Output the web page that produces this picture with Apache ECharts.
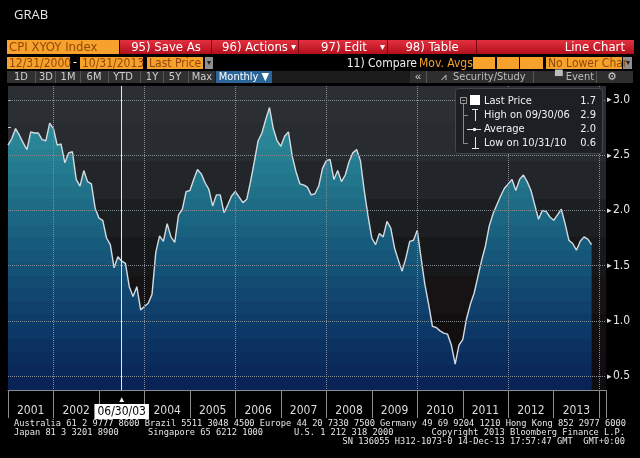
<!DOCTYPE html>
<html>
<head>
<meta charset="utf-8">
<script src="https://cdn.jsdelivr.net/npm/echarts@6/dist/echarts.min.js"></script>
<style>
  html, body { margin: 0; padding: 0; background: #000; }
  #main { width: 640px; height: 458px; }
</style>
</head>
<body>
<div id="main"></div>
<script>
  // CPI XYOY Index, monthly, 12/31/2000 - 10/31/2013
  var cpiYoY = [
    2.59, 2.65, 2.74, 2.68, 2.61, 2.55, 2.71, 2.70, 2.70, 2.64, 2.63, 2.79,
    2.74, 2.59, 2.60, 2.43, 2.52, 2.53, 2.28, 2.22, 2.36, 2.26, 2.24, 2.02,
    1.93, 1.91, 1.75, 1.69, 1.48, 1.58, 1.54, 1.52, 1.31, 1.22, 1.31, 1.10,
    1.13, 1.16, 1.24, 1.62, 1.77, 1.72, 1.88, 1.76, 1.71, 1.96, 2.01, 2.17,
    2.18, 2.28, 2.37, 2.33, 2.25, 2.19, 2.04, 2.14, 2.14, 1.98, 2.05, 2.13,
    2.17, 2.12, 2.07, 2.10, 2.26, 2.44, 2.63, 2.70, 2.82, 2.93, 2.74, 2.63,
    2.58, 2.67, 2.71, 2.49, 2.35, 2.24, 2.23, 2.21, 2.14, 2.15, 2.22, 2.38,
    2.45, 2.46, 2.28, 2.36, 2.26, 2.32, 2.44, 2.52, 2.55, 2.45, 2.18, 1.95,
    1.75, 1.69, 1.79, 1.76, 1.90, 1.84, 1.66, 1.55, 1.45, 1.57, 1.72, 1.73,
    1.82, 1.57, 1.33, 1.15, 0.95, 0.94, 0.91, 0.89, 0.88, 0.78, 0.61, 0.78,
    0.83, 1.02, 1.15, 1.25, 1.40, 1.55, 1.68, 1.86, 1.97, 2.05, 2.13, 2.20,
    2.24, 2.28, 2.18, 2.28, 2.32, 2.26, 2.18, 2.05, 1.92, 2.00, 1.99, 1.94,
    1.91, 1.96, 2.01, 1.88, 1.73, 1.70, 1.64, 1.72, 1.76, 1.74, 1.69
  ];
  var yearLabels = ['2001', '2002', '2003', '2004', '2005', '2006', '2007',
                    '2008', '2009', '2010', '2011', '2012', '2013'];
  var yTickLabels = ['0.5', '1.0', '1.5', '2.0', '2.5', '3.0'];
  var legendRows = [
    ['Last Price', '1.7'],
    ['High on 09/30/06', '2.9'],
    ['Average', '2.0'],
    ['Low on 10/31/10', '0.6']
  ];
  var cursorIndex = 30;          // 06/30/03
  var cursorLabel = '06/30/03';

  var FONT = "'Liberation Sans Narrow', 'DejaVu Sans Condensed', 'Liberation Sans', sans-serif";
  var UI = "'Liberation Sans', 'Noto Sans', sans-serif";
  var MONO = "'DejaVu Sans Mono', 'Liberation Mono', monospace";

  var myChart = echarts.init(document.getElementById('main'));

  // banded vertical gradient in pixel space
  function hex(c) { return [1, 3, 5].map(function (k) { return parseInt(c.substr(k, 2), 16); }); }
  function bands(y0, y1, anchors, n) {
    var stops = [];
    for (var k = 0; k < n; k++) {
      var t = (k + 0.5) / n * (anchors.length - 1);
      var a = Math.floor(t), b = Math.min(a + 1, anchors.length - 1), f = t - a;
      var ca = hex(anchors[a]), cb = hex(anchors[b]);
      var c = 'rgb(' + ca.map(function (v, j) { return Math.round(v + (cb[j] - v) * f); }).join(',') + ')';
      stops.push({ offset: k / n, color: c }, { offset: (k + 1) / n, color: c });
    }
    return new echarts.graphic.LinearGradient(0, y0, 0, y1, stops, true);
  }

  var PLOT_TOP = 85, PLOT_BOTTOM = 390, PLOT_LEFT = 8, PLOT_RIGHT = 606;
  var areaFill = bands(PLOT_TOP, PLOT_BOTTOM,
    ['#2e93a0', '#2a8796', '#21738a', '#185e7d', '#114971', '#0c3464', '#0a2155'], 24);
  var bgFill = bands(PLOT_TOP, PLOT_BOTTOM,
    ['#2c3035', '#2a2d32', '#23262b', '#1c1f23', '#171719', '#151213', '#110e10', '#0d0c10'], 8);

  var seriesData = cpiYoY.map(function (v, i) { return [i, v]; });
  var last = cpiYoY[cpiYoY.length - 1];

  var markData = [{
    xAxis: cursorIndex,
    lineStyle: { color: '#e6e6e6', width: 1, type: 'solid' },
    label: {
      show: true, position: 'start', distance: 6,
      formatter: '{t|▲}\n{d|' + cursorLabel + '}',
      rich: {
        t: { color: '#ffffff', fontSize: 8, lineHeight: 8, align: 'center' },
        d: { color: '#000', backgroundColor: '#ffffff', fontSize: 12, fontFamily: FONT,
             padding: [2, 3, 1, 3], align: 'center' }
      }
    }
  }, {
    yAxis: last,
    lineStyle: { opacity: 0 },
    label: {
      show: true, position: 'end', distance: 1,
      formatter: '{a|◀}{b|' + last.toFixed(1) + '}',
      rich: {
        a: { color: '#ffffff', fontSize: 9, padding: [0, -1, 0, 0] },
        b: { color: '#111', backgroundColor: '#ffffff', fontSize: 12, fontFamily: FONT,
             padding: [1, 3, 0, 3] }
      }
    }
  }];

  function box(x, y, w, h, fill, z) {
    return { type: 'rect', shape: { x: x, y: y, width: w, height: h }, style: { fill: fill }, z: z || 20 };
  }
  function txt(x, y, s, color, size, align, family) {
    return { type: 'text', x: x, y: y, z: 21,
      style: { text: s, fill: color, fontSize: size || 12, fontFamily: family || UI,
               align: align || 'left', verticalAlign: 'middle' } };
  }
  function line(x1, y1, x2, y2, color, z) {
    return { type: 'line', shape: { x1: x1, y1: y1, x2: x2, y2: y2 },
             style: { stroke: color, lineWidth: 1 }, z: z || 21 };
  }
  var ORANGE = '#f6a22c', ORTXT = '#93480a';
  var red = new echarts.graphic.LinearGradient(0, 0, 0, 1,
    [{ offset: 0, color: '#e3303f' }, { offset: 1, color: '#b3101d' }]);

  var ui = [
    box(0, 0, 640, 85, '#000', 19),
    txt(14, 15, 'GRAB', '#e8e8e8', 13, 'left', "'Open Sans', 'Noto Sans', sans-serif"),
    // row 1
    box(7, 40, 112, 14, ORANGE),
    txt(9, 47.5, 'CPI XYOY Index', ORTXT, 13, 'left', FONT),
    box(120, 40, 514, 14, red),
    line(211.5, 40, 211.5, 54, '#7c0a12'), line(298.5, 40, 298.5, 54, '#7c0a12'),
    line(387.5, 40, 387.5, 54, '#7c0a12'), line(476.5, 40, 476.5, 54, '#7c0a12'),
    txt(166, 47.5, '95) Save As', '#fff', 13, 'center', FONT),
    txt(255, 47.5, '96) Actions', '#fff', 13, 'center', FONT),
    txt(293, 47.5, '▾', '#fff', 10, 'center'),
    txt(344, 47.5, '97) Edit', '#fff', 13, 'center', FONT),
    txt(382, 47.5, '▾', '#fff', 10, 'center'),
    txt(432, 47.5, '98) Table', '#fff', 13, 'center', FONT),
    txt(625, 47.5, 'Line Chart', '#fff', 13, 'right', FONT),
    // row 2
    box(7, 57, 63, 12, ORANGE),
    txt(9, 63.5, '12/31/2000', ORTXT, 12, 'left', FONT),
    txt(75, 63, '-', '#fff', 12, 'center', FONT),
    box(80, 57, 63, 12, ORANGE),
    txt(82, 63.5, '10/31/2013', ORTXT, 12, 'left', FONT),
    box(147, 57, 56, 12, ORANGE),
    txt(149, 63.5, 'Last Price', ORTXT, 12, 'left', FONT),
    box(205, 57, 8, 12, '#8f8f8f'),
    txt(209, 63, '▾', '#222', 8, 'center'),
    txt(417, 63.5, '11) Compare', '#f0f0f0', 12, 'right', FONT),
    txt(419, 63.5, 'Mov. Avgs', ORANGE, 12, 'left', FONT),
    box(473, 57, 22, 12, ORANGE), box(497, 57, 22, 12, ORANGE), box(520, 57, 23, 12, ORANGE),
    box(546, 57, 76, 12, ORANGE),
    txt(548, 63.5, 'No Lower Char', ORTXT, 12, 'left', FONT),
    box(623, 57, 9, 12, '#8f8f8f'),
    txt(627.5, 63, '▾', '#222', 8, 'center'),
    // row 3
    box(7, 71, 626, 12, '#1c1c1c'),
    box(7, 71, 208, 12, '#303030'),
    box(216, 71, 56, 12, '#2c6597'),
    box(410, 71, 223, 12, '#2e2e2e'),
    line(35.5, 71, 35.5, 83, '#555'), line(55.5, 71, 55.5, 83, '#555'),
    line(80.5, 71, 80.5, 83, '#555'), line(108.5, 71, 108.5, 83, '#555'),
    line(140.5, 71, 140.5, 83, '#555'), line(163.5, 71, 163.5, 83, '#555'),
    line(188.5, 71, 188.5, 83, '#555'),
    line(426.5, 71, 426.5, 83, '#555'), line(533.5, 71, 533.5, 83, '#555'),
    line(596.5, 71, 596.5, 83, '#555'),
    txt(21, 77.5, '1D', '#cfcfcf', 11, 'center', FONT),
    txt(46, 77.5, '3D', '#cfcfcf', 11, 'center', FONT),
    txt(68, 77.5, '1M', '#cfcfcf', 11, 'center', FONT),
    txt(94, 77.5, '6M', '#cfcfcf', 11, 'center', FONT),
    txt(123, 77.5, 'YTD', '#cfcfcf', 11, 'center', FONT),
    txt(152, 77.5, '1Y', '#cfcfcf', 11, 'center', FONT),
    txt(175, 77.5, '5Y', '#cfcfcf', 11, 'center', FONT),
    txt(202, 77.5, 'Max', '#cfcfcf', 11, 'center', FONT),
    txt(244, 77.5, 'Monthly ▼', '#ffffff', 11, 'center', FONT),
    txt(418, 77, '«', '#cfcfcf', 11, 'center'),
    txt(444, 77, '⩘', '#cfcfcf', 10, 'center'),
    txt(453, 77.5, 'Security/Study', '#bdbdbd', 11, 'left', FONT),
    txt(555, 77.5, '▀ Event', '#bdbdbd', 11, 'left', FONT),
    txt(612, 77, '⚙', '#cfcfcf', 11, 'center', "'DejaVu Sans', sans-serif"),
    // legend box
    { type: 'rect', shape: { x: 455.5, y: 88.5, width: 147, height: 65, r: 3 },
      style: { fill: '#1c1f23', stroke: '#43474d', lineWidth: 1 }, z: 30 },
    { type: 'rect', shape: { x: 460.5, y: 97.5, width: 6, height: 6 },
      style: { fill: 'none', stroke: '#9a9a9a', lineWidth: 1 }, z: 31 },
    line(462, 100.5, 465, 100.5, '#9a9a9a', 31),
    line(463.5, 104, 463.5, 144, '#8a8a8a', 31),
    line(463.5, 115.5, 468, 115.5, '#8a8a8a', 31),
    line(463.5, 143.5, 468, 143.5, '#8a8a8a', 31),
    box(470, 95, 10, 10, '#ffffff', 31),
    line(472, 109.5, 478, 109.5, '#e8e8e8', 31), line(475.5, 109.5, 475.5, 121, '#e8e8e8', 31),
    line(467, 129.5, 481, 129.5, '#e8e8e8', 31),
    { type: 'circle', shape: { cx: 474.5, cy: 129.5, r: 1.8 }, style: { fill: '#e8e8e8' }, z: 31 },
    line(475.5, 137, 475.5, 148.5, '#e8e8e8', 31), line(472, 148.5, 479, 148.5, '#e8e8e8', 31)
  ];
  legendRows.forEach(function (r, k) {
    var y = 101.5 + k * 14;
    ui.push(Object.assign(txt(484, y, r[0], '#f0f0f0', 11, 'left', FONT), { z: 32 }));
    ui.push(Object.assign(txt(596, y, r[1], '#f0f0f0', 11, 'right', FONT), { z: 32 }));
  });
  // footer
  ui.push(txt(14, 424, 'Australia 61 2 9777 8600 Brazil 5511 3048 4500 Europe 44 20 7330 7500 Germany 49 69 9204 1210 Hong Kong 852 2977 6000', '#e6e6e6', 8.7, 'left', MONO));
  ui.push(txt(14, 433, 'Japan 81 3 3201 8900', '#e6e6e6', 8.7, 'left', MONO));
  ui.push(txt(148, 433, 'Singapore 65 6212 1000', '#e6e6e6', 8.7, 'left', MONO));
  ui.push(txt(294, 433, 'U.S. 1 212 318 2000', '#e6e6e6', 8.7, 'left', MONO));
  ui.push(txt(625, 433, 'Copyright 2013 Bloomberg Finance L.P.', '#e6e6e6', 8.7, 'right', MONO));
  ui.push(txt(625, 442, 'SN 136055 H312-1073-0 14-Dec-13 17:57:47 GMT  GMT+0:00', '#e6e6e6', 8.7, 'right', MONO));

  var yearPos = yearLabels.map(function (s, k) { return k * 12 + 6; });
  var yTickPos = [];
  for (var q = 0; q <= 10; q++) yTickPos.push(0.5 + q * 0.25);

  // dotted grid: colour cycles pick every 2nd year boundary and every 0.5 step
  var GRID_DOT = '#858b92', NONE = 'rgba(0,0,0,0)';
  var X_MIN = 0, X_MAX = 157.8, Y_MIN = 0.375, Y_MAX = 3.125;

  var option = {
    backgroundColor: '#000',
    animation: false,
    grid: { left: PLOT_LEFT, right: 640 - PLOT_RIGHT, top: 86, bottom: 68,
            show: true, backgroundColor: bgFill, borderWidth: 0 },
    xAxis: [{
      type: 'value', min: X_MIN, max: X_MAX, interval: 12,
      axisLine: { show: true, lineStyle: { color: '#8c8c8c' } },
      axisTick: { show: true, length: 28, lineStyle: { color: '#8c8c8c' } },
      axisLabel: {
        customValues: yearPos, margin: 15, color: '#dcdcdc', fontSize: 12, fontFamily: FONT,
        formatter: function (v) { return yearLabels[Math.round((v - 6) / 12)] || ''; }
      },
      splitLine: { show: false }
    }, {
      type: 'value', position: 'top', min: X_MIN, max: X_MAX, interval: 12, z: 5,
      axisLine: { show: false }, axisTick: { show: false }, axisLabel: { show: false },
      splitLine: { show: true, lineStyle: { color: [NONE, GRID_DOT], width: 1, type: 'dotted' } }
    }],
    yAxis: [{
      type: 'value', position: 'right', min: Y_MIN, max: Y_MAX,
      axisLine: { show: false },
      axisTick: { show: true, customValues: yTickPos, length: 3, lineStyle: { color: '#cfcfcf' } },
      axisLabel: {
        customValues: yTickLabels.map(Number), margin: 1,
        formatter: function (v) { return '{t|▸}{v|' + v.toFixed(1) + '}'; },
        rich: {
          t: { color: '#e6e6e6', fontSize: 9, padding: [0, 1, 0, 0] },
          v: { color: '#e6e6e6', fontSize: 12, fontFamily: FONT }
        }
      },
      splitLine: { show: false }
    }, {
      type: 'value', position: 'left', min: Y_MIN, max: Y_MAX, interval: 0.125, z: 5,
      axisLine: { show: false }, axisTick: { show: false }, axisLabel: { show: false },
      splitLine: { show: true, lineStyle: { color: [NONE, GRID_DOT, NONE, NONE], width: 1, type: 'dotted' } }
    }],
    graphic: { elements: ui },
    series: [{
      name: 'CPI XYOY Index',
      type: 'line',
      xAxisIndex: 0,
      yAxisIndex: 0,
      data: seriesData,
      showSymbol: false,
      lineStyle: { color: '#d4dbe0', width: 1.4 },
      areaStyle: { color: areaFill, opacity: 1, origin: 'start' },
      markLine: { silent: true, symbol: ['none', 'none'], data: markData }
    }]
  };

  myChart.setOption(option);
</script>
</body>
</html>
